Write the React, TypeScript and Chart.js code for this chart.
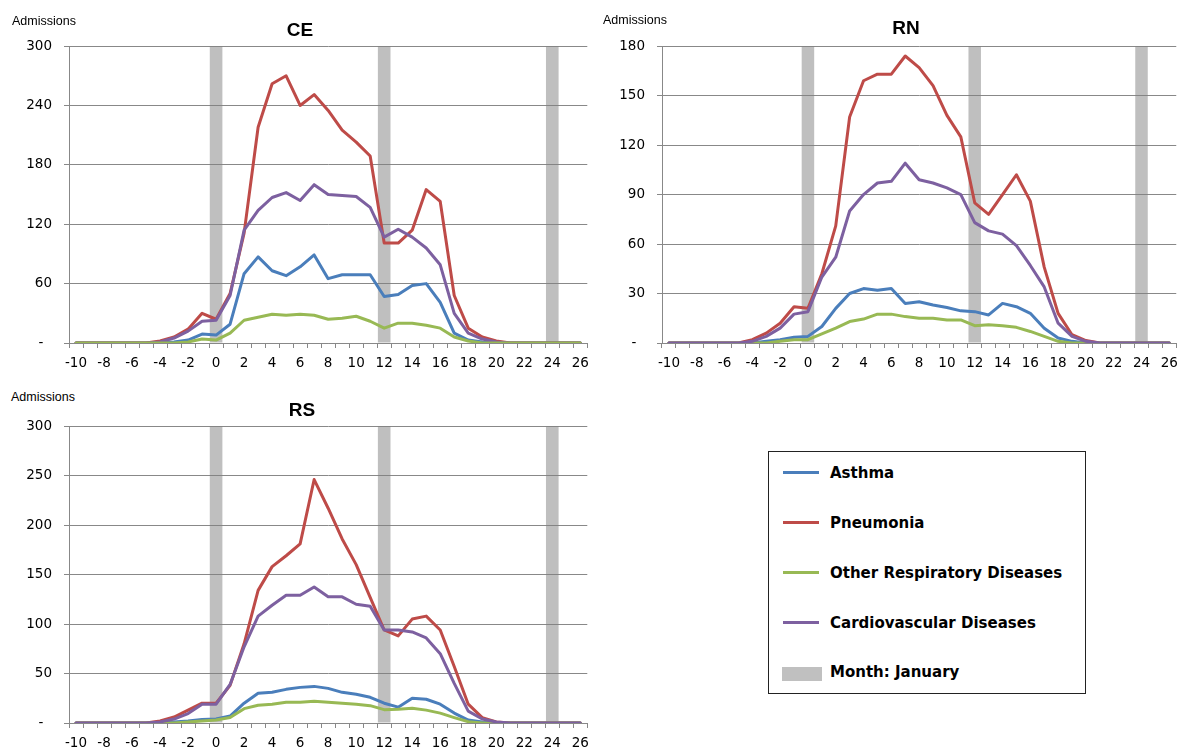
import React, { useEffect, useRef } from 'react';
import { Chart, registerables } from 'chart.js';

Chart.register(...registerables);

// Weeks relative to onset (category axis)
const weeks = [-10, -9, -8, -7, -6, -5, -4, -3, -2, -1, 0, 1, 2, 3, 4, 5, 6, 7, 8, 9, 10, 11, 12, 13, 14, 15, 16, 17, 18, 19, 20, 21, 22, 23, 24, 25, 26];
// Weeks that fall in January (grey bands)
const januaryWeeks = [0, 12, 24];

const seriesNames = ['Asthma', 'Pneumonia', 'Other Respiratory Diseases', 'Cardiovascular Diseases'];
const monthLabel = 'Month: January';

// ---- CE ----
const ceAsthma = [0, 0, 0, 0, 0, 0, 0, 1, 3, 9, 8, 19, 70, 87, 73, 68, 77, 89, 65, 69, 69, 69, 47, 49, 58, 60, 41, 10, 3, 1, 0, 0, 0, 0, 0, 0, 0];
const cePneumonia = [0, 0, 0, 0, 0, 0, 2, 6, 14, 30, 24, 50, 111, 218, 262, 270, 240, 251, 235, 215, 203, 189, 101, 101, 114, 155, 143, 48, 15, 6, 2, 0, 0, 0, 0, 0, 0];
const ceOther = [0, 0, 0, 0, 0, 0, 0, 0, 1, 4, 3, 10, 23, 26, 29, 28, 29, 28, 24, 25, 27, 22, 15, 20, 20, 18, 15, 6, 2, 0, 0, 0, 0, 0, 0, 0, 0];
const ceCardio = [0, 0, 0, 0, 0, 0, 1, 5, 12, 22, 23, 48, 114, 134, 147, 152, 144, 160, 150, 149, 148, 137, 107, 115, 107, 96, 79, 30, 10, 4, 1, 0, 0, 0, 0, 0, 0];

// ---- RN ----
const rnAsthma = [0, 0, 0, 0, 0, 0, 0, 1, 2, 3.5, 4, 10, 21, 30, 33, 32, 33, 24, 25, 23, 21.5, 19.5, 19, 17, 24, 22, 18, 9, 3, 1, 0, 0, 0, 0, 0, 0, 0];
const rnPneumonia = [0, 0, 0, 0, 0, 0, 2, 6, 12, 22, 21, 42, 71, 137, 159, 163, 163, 174, 167, 156, 138, 125, 85, 78, 90, 102, 86, 46, 18, 5, 1.5, 0, 0, 0, 0, 0, 0];
const rnOther = [0, 0, 0, 0, 0, 0, 0, 0, 1, 2, 2, 5.5, 9, 13, 14.5, 17.5, 17.5, 16, 15, 15, 14, 14, 10.5, 11, 10.5, 9.5, 7, 4, 1, 0, 0, 0, 0, 0, 0, 0, 0];
const rnCardio = [0, 0, 0, 0, 0, 0, 1, 4, 9, 17.5, 19, 40, 52, 80, 90, 97, 98, 109, 99, 97, 94, 90, 73, 68, 66, 59, 47, 34, 12, 4, 1, 0, 0, 0, 0, 0, 0];

// ---- RS ----
const rsAsthma = [0, 0, 0, 0, 0, 0, 0, 1, 2, 3.5, 4, 7, 20, 30, 31, 34, 36, 37, 35, 31, 29, 26, 20, 16, 25, 24, 19, 10, 3, 1, 0, 0, 0, 0, 0, 0, 0];
const rsPneumonia = [0, 0, 0, 0, 0, 0, 2, 6, 13, 20, 20, 38, 80, 134, 158, 169, 181, 246, 217, 186, 160, 127, 94, 88, 105, 108, 94, 57, 19, 5.5, 1, 0, 0, 0, 0, 0, 0];
const rsOther = [0, 0, 0, 0, 0, 0, 0, 0, 1, 2, 3, 5.5, 14.5, 18, 19, 21, 21, 22, 21, 20, 19, 17.5, 13.5, 14, 15, 13, 10, 5.5, 1.3, 0, 0, 0, 0, 0, 0, 0, 0];
const rsCardio = [0, 0, 0, 0, 0, 0, 1, 4, 9.5, 19, 19, 39, 77, 108, 119, 129, 129, 137.5, 127.5, 127.5, 120, 118, 94, 94, 92, 86, 70, 40, 12, 4, 1, 0, 0, 0, 0, 0, 0];

// Y axis settings per panel
const ceYMax = 300, ceYStep = 60;
const rnYMax = 180, rnYStep = 30;
const rsYMax = 300, rsYStep = 50;

const colors = ['#4A7EBB', '#BE4B48', '#98B954', '#7D60A0'];
const bandColor = 'rgba(128,128,128,0.5)';
const gridColor = '#888888';
const tickFont = { family: 'DejaVu Sans', size: 13.5 };

type PanelProps = {
  left: number; top: number; width: number; height: number;
  yAxisWidth: number; yMax: number; yStep: number;
  data: number[][]; order: number[];
};

function Panel({ left, top, width, height, yAxisWidth, yMax, yStep, data, order }: PanelProps) {
  const ref = useRef<HTMLCanvasElement>(null);
  useEffect(() => {
    if (!ref.current) return;
    const lineSets = data.map((d, i) => ({
      type: 'line' as const,
      label: seriesNames[i],
      data: d,
      borderColor: colors[i],
      backgroundColor: colors[i],
      borderWidth: 3,
      pointRadius: 0,
      tension: 0,
      fill: false,
      borderJoinStyle: 'round' as const,
      borderCapStyle: 'round' as const,
      order: order[i],
    }));
    const bandSet = {
      type: 'bar' as const,
      label: monthLabel,
      data: weeks.map((w) => (januaryWeeks.includes(w) ? yMax : null)),
      backgroundColor: bandColor,
      borderWidth: 0,
      barPercentage: 0.9,
      categoryPercentage: 1,
      order: 10,
    };
    const chart = new Chart(ref.current, {
      type: 'line',
      data: { labels: weeks.map(String), datasets: [...lineSets, bandSet] as any },
      options: {
        responsive: false,
        animation: false,
        layout: { padding: { top: 10, right: 8, bottom: 0, left: 0 } },
        plugins: { legend: { display: false }, tooltip: { enabled: false }, title: { display: false } },
        scales: {
          x: {
            type: 'category',
            offset: true,
            grid: { offset: true, drawOnChartArea: false, drawTicks: true, tickLength: 5, color: gridColor },
            border: { color: gridColor, width: 1 },
            ticks: {
              autoSkip: false, maxRotation: 0, minRotation: 0, padding: 7, color: '#000', font: tickFont,
              callback: (_v: any, i: number) => (i % 2 === 0 ? String(weeks[i]) : ''),
            },
            afterFit: (s: any) => { s.height = 30; },
          },
          y: {
            min: 0, max: yMax,
            ticks: {
              stepSize: yStep, padding: 12, color: '#000', font: tickFont,
              callback: (v: any) => (v === 0 ? '-  ' : String(v)),
            },
            grid: { color: gridColor, tickLength: 5, drawTicks: true },
            border: { color: gridColor, width: 1 },
            afterFit: (s: any) => { s.width = yAxisWidth; },
          },
        },
      } as any,
    });
    return () => chart.destroy();
  }, []);
  return (
    <canvas ref={ref} width={width} height={height}
      style={{ position: 'absolute', left, top, width, height }} />
  );
}

const textBase: React.CSSProperties = { position: 'absolute', whiteSpace: 'nowrap', lineHeight: 1, color: '#000' };
const axisTitleStyle: React.CSSProperties = { ...textBase, fontFamily: '"Liberation Sans", Arial, sans-serif', fontSize: 12.5 };
const titleStyle: React.CSSProperties = { ...textBase, fontFamily: '"Liberation Sans", Arial, sans-serif', fontSize: 19, fontWeight: 700, width: 200, textAlign: 'center' };
const legendText: React.CSSProperties = { ...textBase, fontFamily: '"DejaVu Sans", sans-serif', fontSize: 15, fontWeight: 700, left: 830 };

export default function App() {
  const legendY = [473, 523, 573, 623];
  return (
    <div style={{ position: 'absolute', left: 0, top: 0, width: 1186, height: 753, overflow: 'hidden', background: '#fff' }}>
      <Panel left={0} top={26} width={596} height={347} yAxisWidth={69} yMax={ceYMax} yStep={ceYStep}
        data={[ceAsthma, cePneumonia, ceOther, ceCardio]} order={[3, 2, 0, 1]} />
      <Panel left={600} top={26} width={585} height={347} yAxisWidth={62} yMax={rnYMax} yStep={rnYStep}
        data={[rnAsthma, rnPneumonia, rnOther, rnCardio]} order={[3, 2, 1, 0]} />
      <Panel left={0} top={406} width={596} height={347} yAxisWidth={69} yMax={rsYMax} yStep={rsYStep}
        data={[rsAsthma, rsPneumonia, rsOther, rsCardio]} order={[3, 2, 1, 0]} />

      <div style={{ ...axisTitleStyle, left: 12, top: 14.5 }}>Admissions</div>
      <div style={{ ...axisTitleStyle, left: 603, top: 13.5 }}>Admissions</div>
      <div style={{ ...axisTitleStyle, left: 11, top: 390.5 }}>Admissions</div>

      <div style={{ ...titleStyle, left: 200, top: 20 }}>CE</div>
      <div style={{ ...titleStyle, left: 806, top: 18 }}>RN</div>
      <div style={{ ...titleStyle, left: 202, top: 399.5 }}>RS</div>

      <div style={{ position: 'absolute', left: 768, top: 451, width: 318, height: 243, border: '1px solid #222', boxSizing: 'border-box' }} />
      {seriesNames.map((n, i) => (
        <React.Fragment key={n}>
          <div style={{ position: 'absolute', left: 783, top: legendY[i] - 2, width: 36, height: 3, background: colors[i] }} />
          <div style={{ ...legendText, top: legendY[i] - 7.5 }}>{n}</div>
        </React.Fragment>
      ))}
      <div style={{ position: 'absolute', left: 782, top: 667, width: 40, height: 14, background: '#c0c0c0' }} />
      <div style={{ ...legendText, top: 672.5 - 7.5 }}>{monthLabel}</div>
    </div>
  );
}
